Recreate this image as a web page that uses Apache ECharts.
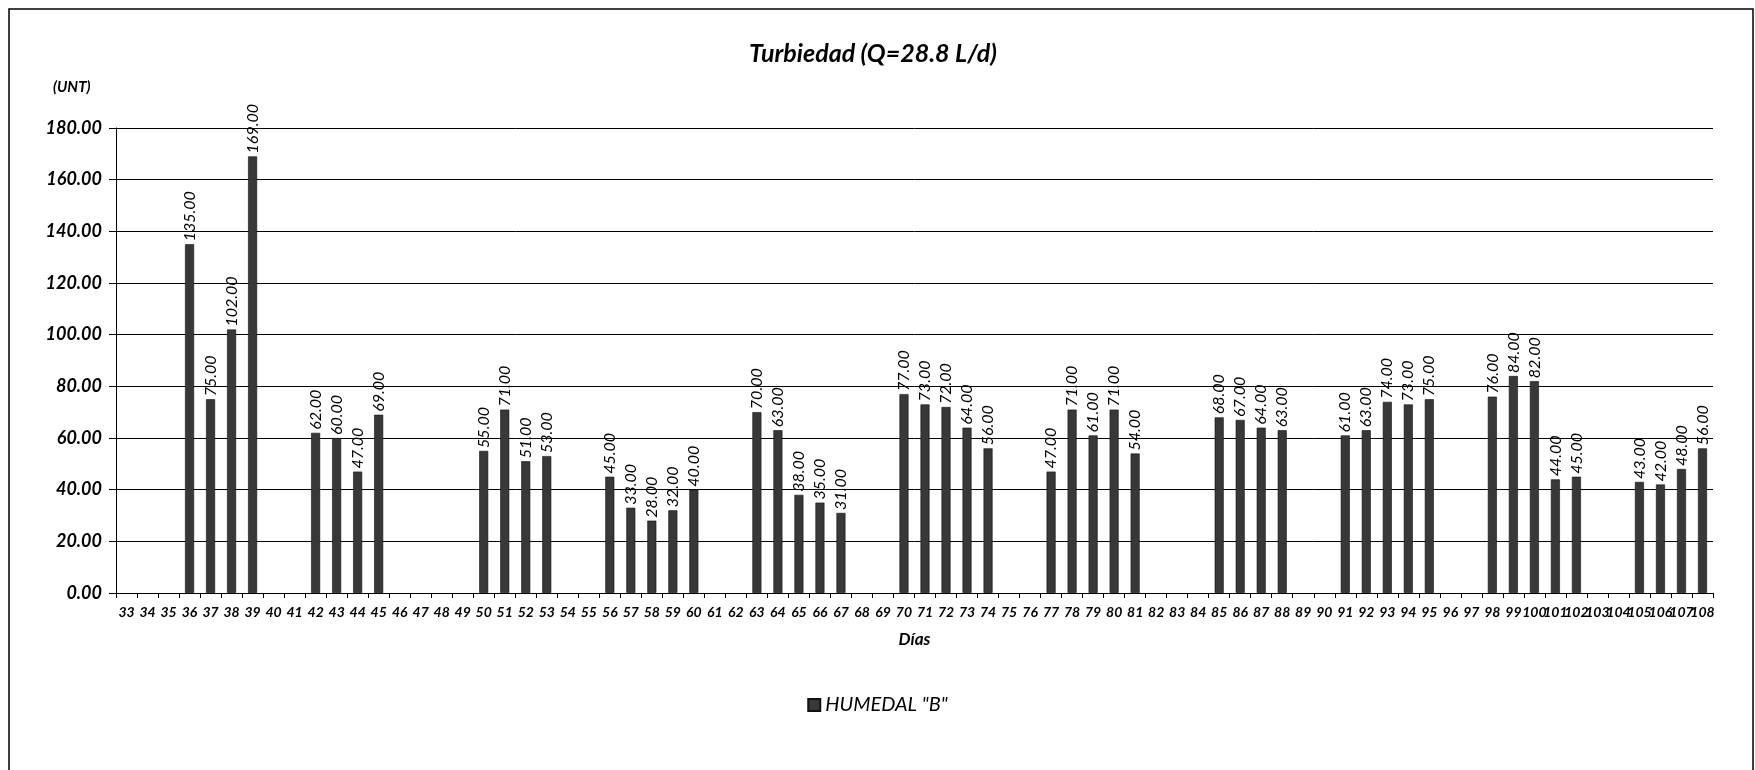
<!DOCTYPE html>
<html>
<head>
<meta charset="utf-8">
<script src="https://cdn.jsdelivr.net/npm/echarts@6/dist/echarts.min.js"></script>
<style>
html,body{margin:0;padding:0;background:#fff;}
#chart{width:1755px;height:770px;}
</style>
</head>
<body>
<div id="chart"></div>
<script>
// Days 33..108 (category axis)
var days = [];
for (var d = 33; d <= 108; d++) days.push(String(d));

var measuredDays = [36,37,38,39,42,43,44,45,50,51,52,53,56,57,58,59,60,63,64,65,66,67,70,71,72,73,74,77,78,79,80,81,85,86,87,88,91,92,93,94,95,98,99,100,101,102,105,106,107,108];
var measuredValues = [135,75,102,169,62,60,47,69,55,71,51,53,45,33,28,32,40,70,63,38,35,31,77,73,72,64,56,47,71,61,71,54,68,67,64,63,61,63,74,73,75,76,84,82,44,45,43,42,48,56];

var seriesName = 'HUMEDAL "B"';
var titleText = 'Turbiedad (Q=28.8 L/d)';
var yUnit = '(UNT)';
var xName = 'Días';

var seriesData = days.map(function (dd) {
  var i = measuredDays.indexOf(Number(dd));
  return i >= 0 ? measuredValues[i] : '-';
});

var FONT = 'Lato, "Open Sans", sans-serif';
var chart = echarts.init(document.getElementById('chart'));
chart.setOption({
  animation: false,
  backgroundColor: '#fff',
  title: {
    text: titleText,
    left: 868, top: 36, textAlign: 'center',
    textStyle: {fontFamily: FONT, fontStyle: 'italic', fontWeight: 'bold', fontSize: 25, color: '#000'}
  },
  graphic: [
    {type: 'polyline', shape: {points: [[9, 775], [9, 9], [1753, 9], [1753, 775]]},
     style: {stroke: '#000', lineWidth: 1.5, fill: null}},
    {type: 'text', left: 53, top: 80,
     style: {text: yUnit, fontFamily: FONT, fontStyle: 'italic', fontWeight: 'bold', fontSize: 15, fill: '#000'}}
  ],
  legend: {
    data: [seriesName],
    left: 'center', top: 690,
    itemWidth: 12, itemHeight: 12,
    itemGap: 6,
    icon: 'rect',
    textStyle: {fontFamily: FONT, fontStyle: 'italic', fontSize: 20, color: '#000'}
  },
  grid: {left: 116, right: 42, top: 128, bottom: 177},
  xAxis: {
    type: 'category',
    data: days,
    name: xName,
    nameLocation: 'middle',
    nameGap: 38,
    nameTextStyle: {fontFamily: FONT, fontStyle: 'italic', fontWeight: 'bold', fontSize: 17, color: '#000'},
    axisLine: {lineStyle: {color: '#000', width: 1}},
    axisTick: {show: true, alignWithLabel: false, length: 5, lineStyle: {color: '#000'}},
    axisLabel: {interval: 0, margin: 12, fontFamily: FONT, fontStyle: 'italic', fontWeight: 'bold', fontSize: 14, color: '#000'}
  },
  yAxis: {
    type: 'value',
    min: 0, max: 180, interval: 20,
    axisLine: {show: true, lineStyle: {color: '#000', width: 1}},
    axisTick: {show: true, length: 7, lineStyle: {color: '#000'}},
    splitLine: {lineStyle: {color: '#000', width: 1}},
    axisLabel: {margin: 14, fontFamily: FONT, fontStyle: 'italic', fontWeight: 'bold', fontSize: 18, color: '#000',
      formatter: function (v) { return v.toFixed(2); }}
  },
  series: [{
    name: seriesName,
    type: 'bar',
    data: seriesData,
    barWidth: 9,
    itemStyle: {color: '#383838', borderColor: '#111', borderWidth: 0.6},
    label: {
      show: true, position: 'top', rotate: 90, align: 'left', verticalAlign: 'middle', distance: 3,
      fontFamily: FONT, fontStyle: 'italic', fontSize: 16, color: '#000',
      formatter: function (p) { return Number(p.value).toFixed(2); }
    }
  }]
});
</script>
</body>
</html>
